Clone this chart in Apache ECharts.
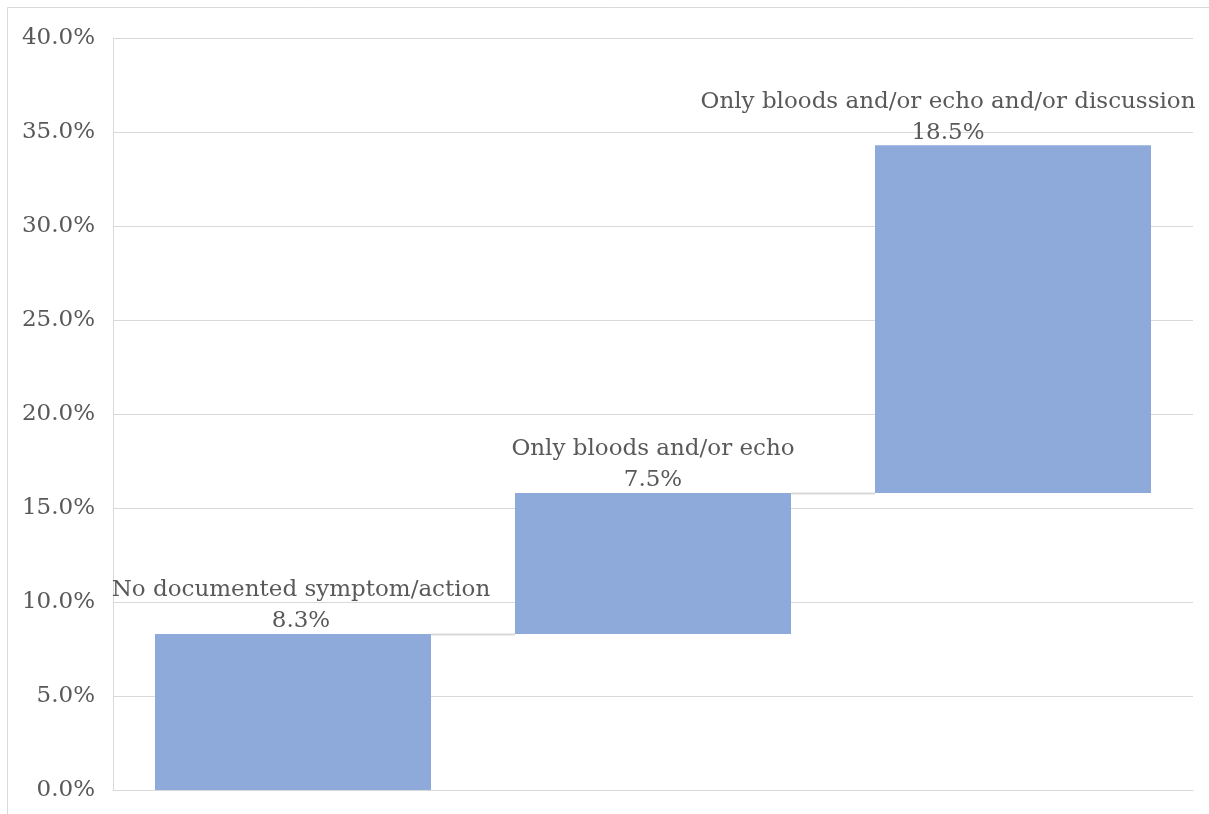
<!DOCTYPE html>
<html>
<head>
<meta charset="utf-8">
<script src="https://cdn.jsdelivr.net/npm/echarts@6/dist/echarts.min.js"></script>
<style>
html,body{margin:0;padding:0;background:#fff;}
#c{width:1209px;height:814px;}
</style>
</head>
<body>
<div id="c"></div>
<script>
const categories = ['No documented symptom/action', 'Only bloods and/or echo', 'Only bloods and/or echo and/or discussion'];
const increments = [8.3, 7.5, 18.5];
const yTicks = [0, 5, 10, 15, 20, 25, 30, 35, 40];

const bases = [];
const tops = [];
let run = 0;
increments.forEach(v => { bases.push(+run.toFixed(1)); run += v; tops.push(+run.toFixed(1)); });

const FONT = 'DejaVu Serif';
const TXT = '#595959';
const GRID = '#d9d9d9';
const BAR_W = 276;
// labels nudged to stay inside the plot area (as in the source)
const labelShift = [[8, 0], [0, 0], [-65, 0]];

const chart = echarts.init(document.getElementById('c'));
chart.setOption({
  animation: false,
  backgroundColor: '#fff',
  grid: { left: 113, right: 16, top: 38, bottom: 24, containLabel: false },
  graphic: [
    { type: 'line', shape: { x1: 7.5, y1: 7.5, x2: 1209, y2: 7.5 }, style: { stroke: GRID, lineWidth: 1 } },
    { type: 'line', shape: { x1: 7.5, y1: 7.5, x2: 7.5, y2: 814 }, style: { stroke: GRID, lineWidth: 1 } }
  ],
  xAxis: {
    type: 'category',
    data: categories,
    axisLine: { show: true, lineStyle: { color: GRID, width: 1 } },
    axisTick: { show: false },
    axisLabel: { show: false }
  },
  yAxis: {
    type: 'value',
    min: yTicks[0],
    max: yTicks[yTicks.length - 1],
    interval: 5,
    axisLine: { show: true, lineStyle: { color: GRID, width: 1 } },
    axisTick: { show: false },
    splitLine: { lineStyle: { color: GRID, width: 1 } },
    axisLabel: {
      margin: 18,
      color: TXT,
      fontFamily: FONT,
      fontSize: 23,
      formatter: v => v.toFixed(1) + '%'
    }
  },
  series: [
    {
      type: 'custom',
      z: 1,
      renderItem: (params, api) => {
        const i = api.value(0);
        const y = api.value(1);
        const p0 = api.coord([i, y]);
        const p1 = api.coord([i + 1, y]);
        return {
          type: 'line',
          shape: { x1: p0[0] + BAR_W / 2, y1: Math.round(p0[1]) + 0.5, x2: p1[0] - BAR_W / 2, y2: Math.round(p0[1]) + 0.5 },
          style: { stroke: GRID, lineWidth: 2 }
        };
      },
      data: tops.slice(0, -1).map((t, i) => [i, t]),
      silent: true
    },
    {
      type: 'bar',
      stack: 'w',
      barWidth: BAR_W,
      itemStyle: { color: 'transparent' },
      data: bases,
      silent: true
    },
    {
      type: 'bar',
      stack: 'w',
      barWidth: BAR_W,
      z: 3,
      itemStyle: { color: '#8eaadb' },
      label: {
        show: true,
        position: 'top',
        distance: -3,
        color: TXT,
        fontFamily: FONT,
        fontSize: 23,
        lineHeight: 31,
        formatter: p => p.name + '\n' + p.value.toFixed(1) + '%'
      },
      data: increments.map((v, i) => ({ value: v, label: { offset: labelShift[i] } }))
    }
  ]
});
</script>
</body>
</html>
